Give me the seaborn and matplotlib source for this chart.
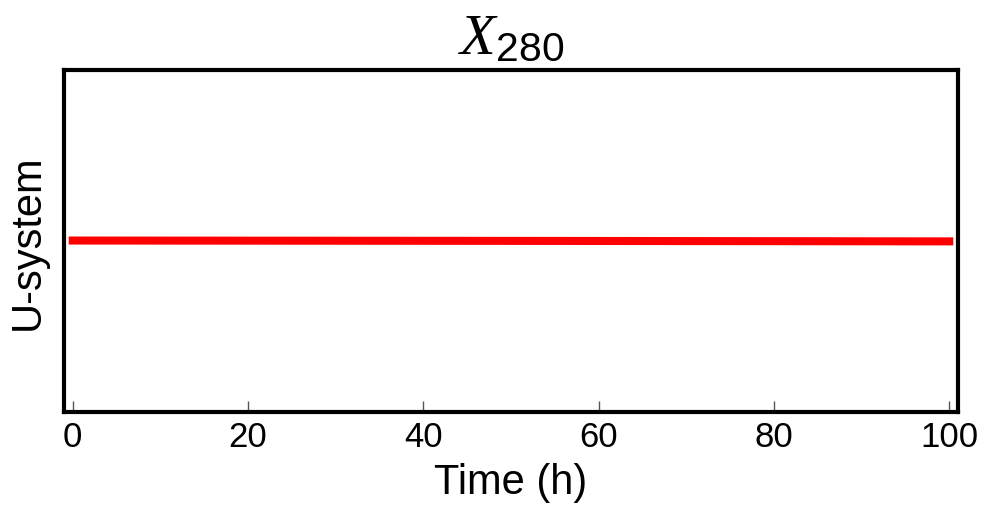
import matplotlib
matplotlib.use("Agg")
import matplotlib.pyplot as plt
import seaborn as sns
import pandas as pd

sns.set_theme(style="white")
plt.rcParams.update(
    {
        "font.family": ["Liberation Sans", "DejaVu Sans"],
        "mathtext.fontset": "custom",
        "mathtext.it": "Liberation Serif:italic",
        "mathtext.rm": "Liberation Sans",
        "text.color": "black",
        "axes.labelcolor": "black",
        "xtick.bottom": True,
        "xtick.direction": "in",
        "xtick.major.size": 8,
        "xtick.major.width": 1,
        "xtick.color": "#555555",
        "xtick.labelcolor": "black",
        "axes.linewidth": 3,
        "axes.edgecolor": "black",
    }
)

# data
time_h = [0, 20, 40, 60, 80, 100]
u_system = [0.501, 0.5006, 0.5002, 0.4997, 0.4991, 0.4985]

df = pd.DataFrame({"time": time_h, "u": u_system})

fig = plt.figure(figsize=(9.85, 5.06), dpi=100)
ax = fig.add_axes([0.065, 0.184, 0.9076, 0.676])

sns.lineplot(data=df, x="time", y="u", color="red", linewidth=5.8, ax=ax)
for ln in ax.get_lines():
    ln.set_solid_capstyle("projecting")

ax.set_xlim(-1, 101)
ax.set_ylim(0, 1)
ax.set_xticks([0, 20, 40, 60, 80, 100])
ax.set_yticks([])
ax.tick_params(axis="x", labelsize=25, pad=6)
ax.set_xlabel("Time (h)", fontsize=30, labelpad=6)
ax.set_ylabel("U-system", fontsize=30, labelpad=12)
ax.set_title(r"$X_\mathrm{280}$", fontsize=42, pad=12)
for s in ax.spines.values():
    s.set_visible(True)
    s.set_color("black")

fig.savefig("out.png", dpi=100)
